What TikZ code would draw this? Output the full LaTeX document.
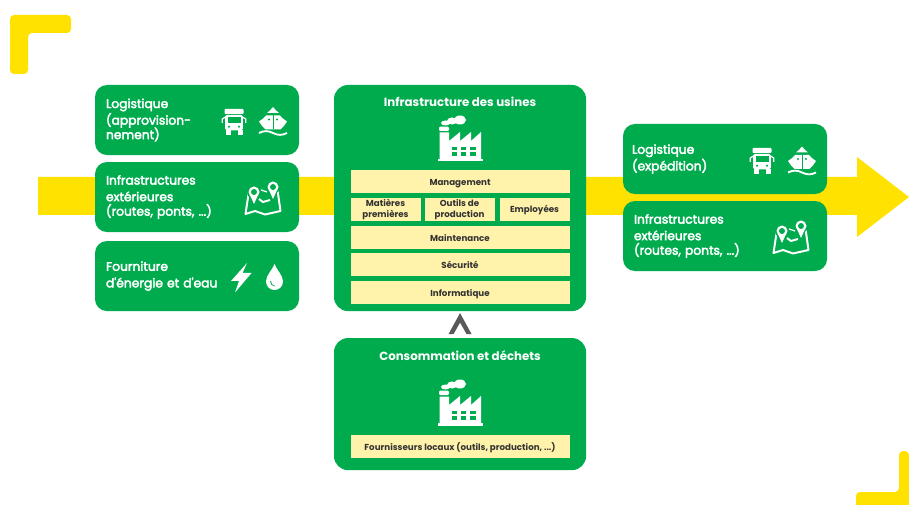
\documentclass[tikz,border=0pt]{standalone}
\usepackage{fontspec}
\setmainfont{Poppins}
\newfontfamily\bodyfont{Poppins}[FakeBold=3]
\usepackage{tikz}
\usetikzlibrary{positioning, calc}
\definecolor{usinegreen}{HTML}{00AB4E}
\definecolor{flowyellow}{HTML}{FFE200}
\definecolor{rowyellow}{HTML}{FFF2AB}
\definecolor{rowtext}{HTML}{333333}
\definecolor{chevrongray}{HTML}{595959}
\tikzstyle{greenbox} = [rectangle, minimum width=5.1cm, minimum height=1.75cm, rounded corners=0.3cm, inner xsep=0.275cm, inner ysep=0cm, outer sep=0cm, text width=4.55cm, align=left, fill=usinegreen, text=white, font=\fontsize{8.75}{10.3}\selectfont\bodyfont, execute at begin node={\setlength{\lineskiplimit}{-10pt}\vspace*{1.5pt}}]
\tikzstyle{bigbox} = [rectangle, minimum width=6.3cm, rounded corners=0.35cm, inner sep=0cm, outer sep=0cm, fill=usinegreen]
\tikzstyle{boxtitle} = [text=white, inner sep=0cm, font=\fontsize{8.4}{10.3}\selectfont\bfseries]
\tikzstyle{smallrow} = [rectangle, minimum width=1.75cm, minimum height=0.575cm, inner sep=0cm, outer sep=0cm, align=center, fill=rowyellow, text=rowtext, font=\fontsize{6.2}{7.8}\selectfont\bfseries, execute at begin node={\setlength{\lineskiplimit}{-10pt}}]
\tikzstyle{rowbox} = [smallrow, minimum width=5.475cm, text height=5.6pt, text depth=0pt]
\tikzset{
truck/.pic={
\fill[white, rounded corners=0.02cm] (-9.5,-13) rectangle (9.5,-8);
\fill[white, rounded corners=0.04cm] (-8.8,-7.2) rectangle (8.8,8.5);
\fill[usinegreen] (-6.5,-5) rectangle (6.5,1);
\fill[usinegreen] (-5,4.7) circle (1.2);
\fill[usinegreen] (5,4.7) circle (1.2);
\fill[white] (-8.5,8) rectangle (-3.5,13);
\fill[white] (3.5,8) rectangle (8.5,13);
\draw[white, line width=0.9pt] (-8.5,-5) -- (-11.7,-3) -- (-11.7,1);
\draw[white, line width=0.9pt] (8.5,-5) -- (11.7,-3) -- (11.7,1);
},
ship/.pic={
\fill[white] (-6,-8.5) .. controls (-4,-10) and (-2,-12) .. (0,-14.5) .. controls (2,-12) and (4,-10) .. (6,-8.5) -- cycle;
\fill[white] (-14,0) .. controls (-11,-2) and (-9,-3.5) .. (-7,-6) -- (7,-6) .. controls (9,-3.5) and (11,-2) .. (14,0) .. controls (12,3) and (10,6) .. (7.5,8) -- (-7.5,8) .. controls (-10,6) and (-12,3) .. (-14,0) -- cycle;
\draw[usinegreen, line width=0.7pt] (0,-6) -- (0,8);
\fill[usinegreen] (-4,-2) circle (1.2);
\fill[usinegreen] (4,-2) circle (1.2);
\draw[white, line width=1.3pt] (-14,11.5) .. controls (-9,9) and (-5,9) .. (0,11.5) .. controls (5,14) and (9,14) .. (14,11.5);
},
mapicon/.pic={
\draw[white, line width=1.4pt, line join=round] (-14,-7) -- (-17.5,16) -- (-8,13) -- (2,16.5) -- (17.5,13) -- (14.5,-8) -- (13,-7);
\draw[white, line width=1.4pt] (-4,1) -- (0,4) -- (7,2);
\fill[usinegreen] (-9,-6) circle (7);
\fill[usinegreen] (10,-11) circle (7);
\fill[white] (-13,-3) -- (-9,6) -- (-5,-3) -- cycle;
\fill[white] (6,-8) -- (10,1) -- (14,-8) -- cycle;
\fill[white] (-9,-6) circle (5.5);
\fill[white] (10,-11) circle (5.5);
\fill[usinegreen] (-9,-6) circle (3);
\fill[usinegreen] (10,-11) circle (3);
\draw[white, line width=0.9pt] (-2,-8) -- (4,-6);
},
bolt/.pic={
\fill[white] (6,-15) -- (-10,3) -- (-2,3) -- (-6,14.5) -- (10.5,-5) -- (1.5,-5) -- cycle;
},
droplet/.pic={
\fill[white] (0,-14) .. controls (2,-8) and (8.5,-3) .. (8.5,3.5) .. controls (8.5,8.5) and (4.5,12) .. (0,12) .. controls (-4.5,12) and (-8.5,8.5) .. (-8.5,3.5) .. controls (-8.5,-3) and (-2,-8) .. (0,-14) -- cycle;
\draw[usinegreen, line width=0.6pt] (-4,3) .. controls (-4,6) and (-2,8) .. (0,8);
},
factory/.pic={
\fill[white] (-22.5,20.5) rectangle (22.5,23);
\fill[white] (-21,21) -- (-21,-6) -- (-11.5,-6) -- (-11.5,2.5) -- (-0.5,-6.5) -- (-0.5,2.5) -- (10.5,-6.5) -- (10.5,2.5) -- (20.5,-6.5) -- (20.5,21) -- cycle;
\fill[white, rounded corners=0.03cm] (-21.5,-11.8) rectangle (-11.5,-7.5);
\fill[white] (-0.5,-18.5) ellipse (6 and 4.5);
\fill[white] (-8.5,-17.5) ellipse (5 and 3.5);
\fill[white] (-15,-15.5) ellipse (4.5 and 2.5);
\foreach \wx in {-8.8,0.4,9.8} {
\foreach \wy in {8.2,13.8} {
\fill[usinegreen] (\wx,\wy) rectangle ++(5.4,3.6);
}
}
},
chevron/.pic={
\fill[chevrongray] (0,-11.5) -- (11.5,9.5) -- (6.5,9.5) -- (0,-2) -- (-6.5,9.5) -- (-11.5,9.5) -- cycle;
}
}
\begin{document}
\begin{tikzpicture}[x=0.025cm, y=-0.025cm]
\useasboundingbox (0,0) rectangle (909,505);
\fill[flowyellow] (38,177) -- (857,177) -- (857,157) -- (909,197) -- (857,237) -- (857,215) -- (38,215) -- cycle;
\fill[flowyellow, rounded corners=0.1cm] (10,15) -- (71,15) -- (71,33) -- (28,33) -- (28,74) -- (10,74) -- cycle;
\fill[flowyellow, rounded corners=0.1cm] (856,505) -- (856,492) -- (899,492) -- (899,451) -- (909,451) [sharp corners] -- (909,505) -- cycle;
\node (logiin) [greenbox, anchor=north west] at (95,85) {Logistique\\(approvision-\\nement)};
\node (routesin) [greenbox, below=0.175cm of logiin] {Infrastructures\\extérieures\\(routes, ponts, ...)};
\node (energie) [greenbox, below=0.225cm of routesin] {Fourniture\\d'énergie et d'eau};
\node (infra) [bigbox, minimum height=5.65cm, anchor=north west] at (334,85) {};
\node (conso) [bigbox, minimum height=3.3cm, below=0.675cm of infra] {};
\node (logiout) [greenbox, anchor=north west, inner xsep=0.225cm, text width=4.65cm] at (623,124) {Logistique\\(expédition)};
\node (routesout) [greenbox, below=0.175cm of logiout] {Infrastructures\\extérieures\\(routes, ponts, ...)};
\node (infratitle) [boxtitle] at ($(infra.north)+(0,17)$) {Infrastructure des usines};
\node (mgmt) [rowbox, below=2.125cm of infra.north] {Management};
\node (matieres) [smallrow, below=0.125cm of mgmt.south west, anchor=north west] {Matières\\premières};
\node (outils) [smallrow, right=0.1cm of matieres] {Outils de\\production};
\node (employes) [smallrow, right=0.125cm of outils] {Employées};
\node (maint) [rowbox, below=0.125cm of mgmt.south, yshift=-0.7cm] {Maintenance};
\node (securite) [rowbox, below=0.1cm of maint] {Sécurité};
\node (info) [rowbox, below=0.125cm of securite] {Informatique};
\node (consotitle) [boxtitle] at ($(conso.north)+(0,18)$) {Consommation et déchets};
\node (fourn) [rowbox, below=2.425cm of conso.north] {Fournisseurs locaux (outils, production, ...)};
\path (conso.north) -- (infra.south) pic[midway] {chevron};
\pic at (234,122) {truck};
\pic at (273,121.5) {ship};
\pic at (263,198) {mapicon};
\pic at (241,278) {bolt};
\pic at (274.5,278) {droplet};
\pic at (460.5,138.5) {factory};
\pic at (460.5,402.5) {factory};
\pic at (762,161) {truck};
\pic at (802,161) {ship};
\pic at (791,237) {mapicon};
\end{tikzpicture}
\end{document}
